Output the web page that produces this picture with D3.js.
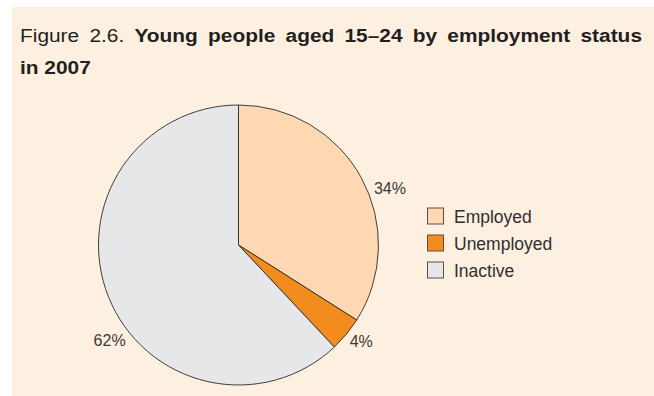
<!DOCTYPE html>
<html>
<head>
<meta charset="utf-8">
<script src="https://cdn.jsdelivr.net/npm/d3@7/dist/d3.min.js"></script>
<style>
  html, body { margin: 0; padding: 0; background: #ffffff; }
  svg { display: block; font-family: "Liberation Sans", Arial, Helvetica, sans-serif; }
</style>
</head>
<body>
<svg id="chart" width="654" height="396"></svg>
<script>
// Employment status of young people aged 15-24, 2007 (percent)
const categories = ["Employed", "Unemployed", "Inactive"];
const shares = [34, 4, 62];
const valueLabels = ["34%", "4%", "62%"];
const colors = ["#fdd8b3", "#f28c1f", "#e6e7e9"];

const titlePrefix = "Figure 2.6. ";
const titleBold1 = "Young people aged 15\u201324 by employment status";
const titleBold2 = "in 2007";

const W = 654, H = 396;
const svg = d3.select("#chart");

// panel background
svg.append("rect")
  .attr("x", 12).attr("y", 7)
  .attr("width", W - 12).attr("height", H - 7)
  .attr("fill", "#fef0e0");

// title in a slightly widened face; first line justified across the panel
const titleScale = 1.13;
const titleG = svg.append("g")
  .attr("transform", `translate(20,0) scale(${titleScale},1)`);
const t1 = titleG.append("text")
  .attr("x", 0).attr("y", 42)
  .attr("font-size", 18.5)
  .attr("fill", "#231f20");
t1.append("tspan").text(titlePrefix);
t1.append("tspan").attr("font-weight", "bold").text(titleBold1);
const natural = t1.node().getComputedTextLength();
const gaps = (titlePrefix + titleBold1).trim().split(/\s+/).length - 1;
const targetWidth = 622 / titleScale;
t1.attr("word-spacing", Math.max(0, (targetWidth - natural) / gaps));

titleG.append("text")
  .attr("x", 0).attr("y", 74)
  .attr("font-size", 18.5)
  .attr("font-weight", "bold")
  .attr("fill", "#231f20")
  .text(titleBold2);

// pie
const cx = 238.5, cy = 245, R = 140;
const pie = d3.pie().sort(null).value(d => d)(shares);
const arc = d3.arc().innerRadius(0).outerRadius(R);

const g = svg.append("g").attr("transform", `translate(${cx},${cy})`);
g.selectAll("path")
  .data(pie)
  .join("path")
  .attr("d", arc)
  .attr("fill", (d, i) => colors[i])
  .attr("stroke", "#2b2b2b")
  .attr("stroke-width", 0.9)
  .attr("stroke-linejoin", "round");

// value labels just outside the rim, nudged clear of the slice edges
const labelArc = d3.arc().innerRadius(158).outerRadius(158);
const nudges = [[13, 20], [1, -4], [18, 37]];
g.selectAll("text.val")
  .data(pie)
  .join("text")
  .attr("class", "val")
  .attr("x", (d, i) => labelArc.centroid(d)[0] + nudges[i][0])
  .attr("y", (d, i) => labelArc.centroid(d)[1] + nudges[i][1])
  .attr("dy", "0.35em")
  .attr("text-anchor", "middle")
  .attr("font-size", 16)
  .attr("fill", "#3a3a3a")
  .text((d, i) => valueLabels[i]);

// legend
const lg = svg.append("g").attr("transform", "translate(427,207.5)");
const rows = lg.selectAll("g")
  .data(categories)
  .join("g")
  .attr("transform", (d, i) => `translate(0,${i * 27})`);
rows.append("rect")
  .attr("x", 0.5).attr("y", 0.5)
  .attr("width", 16).attr("height", 16)
  .attr("fill", (d, i) => colors[i])
  .attr("stroke", "#5b5048")
  .attr("stroke-width", 1);
rows.append("text")
  .attr("x", 27).attr("y", 15.5)
  .attr("font-size", 17.5)
  .attr("fill", "#2f2f2f")
  .text(d => d);
</script>
</body>
</html>
